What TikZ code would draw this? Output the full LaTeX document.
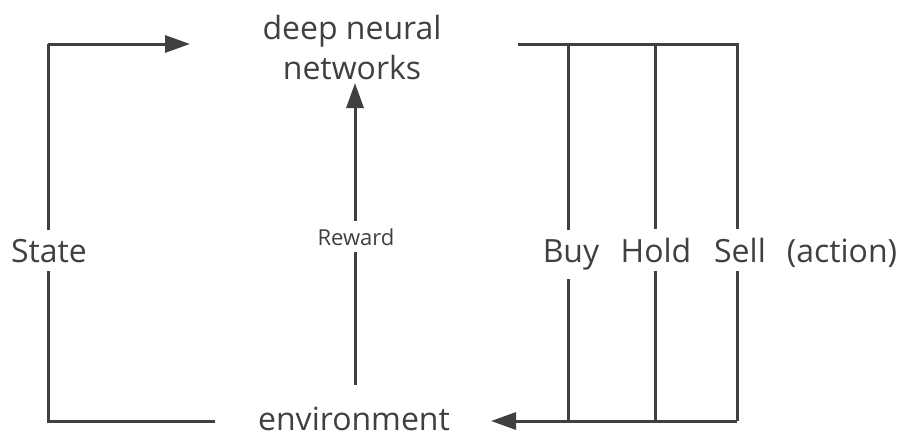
\documentclass[tikz,border=0pt]{standalone}
\usepackage{fontspec}
\setmainfont{Open Sans}
\usetikzlibrary{arrows.meta}
\definecolor{ink}{HTML}{404040}
\begin{document}
\begin{tikzpicture}[x=1pt,y=-1pt,
  line/.style={draw=ink,line width=3pt},
  arr/.style={line,-{Triangle[length=25pt,width=17pt]}},
  lbl/.style={text=ink,font=\fontsize{32}{40}\selectfont,inner sep=0pt},
  cut/.style={lbl,fill=white,anchor=base,inner ysep=9pt,inner xsep=2pt},
  small/.style={text=ink,font=\fontsize{22}{26}\selectfont,fill=white,anchor=base,inner xsep=2pt,inner ysep=7pt}]
\useasboundingbox (0,0) rectangle (901,439);
% nodes
\node[lbl,align=center] (dnn) at (352,47) {deep neural\\networks};
\node[lbl,anchor=base] (env) at (354,430) {environment};
% coordinates
\coordinate (tl) at (48,44);
\coordinate (bl) at (48,421);
\coordinate (dnnin) at (190,44);
\coordinate (dnnout) at (518,44);
\coordinate (envl) at (215,421);
\coordinate (envr) at (491,421);
\coordinate (rwb) at (355,385);
\coordinate (rwt) at (355,83);
\coordinate (bt) at (568,44);  \coordinate (bb) at (568,421);
\coordinate (ht) at (655,44);  \coordinate (hb) at (655,421);
\coordinate (st) at (737,44);  \coordinate (sb) at (737,421);
% left loop
\draw[line] (envl) -- (bl) -- (tl);
\draw[arr] (tl) -- (dnnin);
% reward
\draw[arr] (rwb) -- (rwt);
% actions
\draw[line] (dnnout) -- (st) -- (sb);
\draw[line] (bt) -- (bb);
\draw[line] (ht) -- (hb);
\draw[arr] (sb) -- (envr);
% labels over lines
\node[cut] (state) at (49,262) {State};
\node[small] (reward) at (356,245) {Reward};
\node[cut] (buy) at (571,262) {Buy};
\node[cut] (hold) at (656,262) {Hold};
\node[cut] (sell) at (740,262) {Sell};
\node[lbl,anchor=base] (action) at (842,262) {(action)};
\end{tikzpicture}
\end{document}
